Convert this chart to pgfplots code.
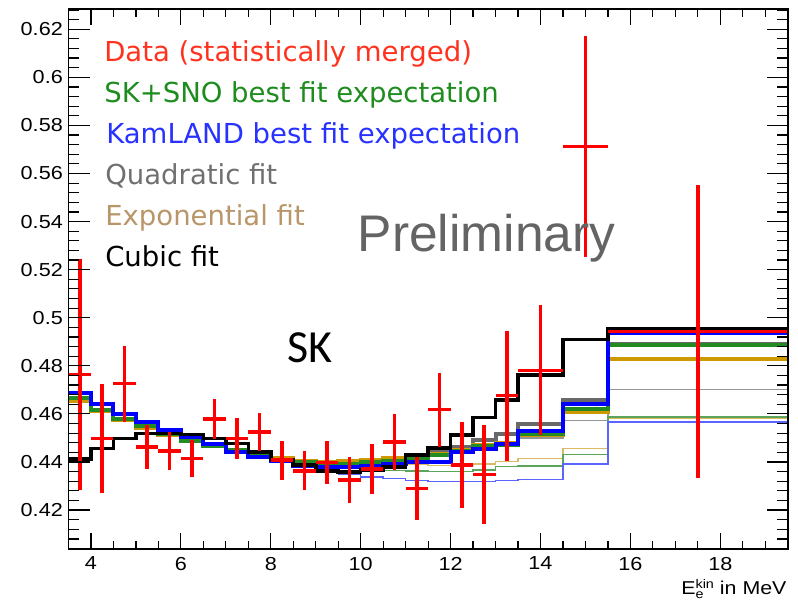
\documentclass[border=0pt]{standalone}
\usepackage{fontspec}
\setmainfont{Liberation Sans}
\newfontfamily\rootfont[FakeStretch=1.15]{Liberation Sans}
\newfontfamily\dejavu{DejaVu Sans}
\newfontfamily\carlito{Carlito}
\usepackage{pgfplots}
\pgfplotsset{compat=1.18}
\usepackage{pgfplotstable}
\usetikzlibrary{calc}

\definecolor{kblue}{RGB}{0,0,255}
\definecolor{sgreen}{RGB}{34,139,34}
\definecolor{egold}{RGB}{204,153,0}
\definecolor{qgray}{RGB}{105,105,105}
\definecolor{tblue}{RGB}{90,100,255}
\definecolor{tgreen}{RGB}{90,165,90}
\definecolor{tgold}{RGB}{220,185,100}
\definecolor{tgray}{RGB}{150,150,150}
\definecolor{datared}{RGB}{255,0,0}
\definecolor{legred}{RGB}{255,50,30}
\definecolor{leggreen}{RGB}{30,140,30}
\definecolor{legblue}{RGB}{40,50,255}
\definecolor{leggray}{RGB}{112,112,112}
\definecolor{legtan}{RGB}{185,150,105}
\definecolor{prelgray}{RGB}{100,100,100}

% histogram bins: value holds from x to the next x
\pgfplotstableread{
x     blue   green  gold   gray   black  tblue  tgreen tgold  tgray
3.5   0.4688 0.4668 0.4655 0.4662 0.4412 0.4688 0.4668 0.4655 0.4662
4     0.4643 0.4618 0.4610 0.4615 0.4456 0.4643 0.4618 0.4610 0.4615
4.5   0.4601 0.4580 0.4574 0.4578 0.4497 0.4601 0.4580 0.4574 0.4578
5     0.4565 0.4548 0.4543 0.4546 0.4518 0.4565 0.4548 0.4543 0.4546
5.5   0.4532 0.4515 0.4512 0.4514 0.4518 0.4532 0.4515 0.4512 0.4514
6     0.4502 0.4488 0.4486 0.4487 0.4515 0.4502 0.4488 0.4486 0.4487
6.5   0.4474 0.4466 0.4465 0.4466 0.4497 0.4474 0.4466 0.4465 0.4466
7     0.4440 0.4448 0.4448 0.4448 0.4477 0.4440 0.4448 0.4448 0.4448
7.5   0.4422 0.4428 0.4430 0.4428 0.4442 0.4422 0.4428 0.4430 0.4428
8     0.4405 0.4410 0.4415 0.4410 0.4410 0.4405 0.4410 0.4415 0.4410
8.5   0.4385 0.4398 0.4405 0.4398 0.4387 0.4385 0.4398 0.4405 0.4398
9     0.4378 0.4392 0.4400 0.4393 0.4362 0.4370 0.4390 0.4400 0.4393
9.5   0.4380 0.4393 0.4405 0.4395 0.4359 0.4350 0.4382 0.4400 0.4395
10    0.4385 0.4398 0.4410 0.4402 0.4366 0.4338 0.4373 0.4400 0.4402
10.5  0.4391 0.4405 0.4415 0.4415 0.4380 0.4331 0.4365 0.4394 0.4410
11    0.4400 0.4414 0.4425 0.4428 0.4428 0.4324 0.4363 0.4390 0.4418
11.5  0.4400 0.4428 0.4432 0.4442 0.4459 0.4318 0.4360 0.4385 0.4428
12    0.4442 0.4445 0.4450 0.4463 0.4511 0.4318 0.4360 0.4386 0.4440
12.5  0.4456 0.4466 0.4470 0.4493 0.4585 0.4320 0.4366 0.4391 0.4458
13    0.4474 0.4470 0.4478 0.4515 0.4659 0.4324 0.4380 0.4401 0.4475
13.5  0.4528 0.4518 0.4511 0.4560 0.4763 0.4327 0.4384 0.4414 0.4500
14.5  0.4643 0.4622 0.4606 0.4658 0.4910 0.4392 0.4430 0.4456 0.4572
15.5  0.4935 0.4885 0.4829 0.4890 0.4954 0.4566 0.4587 0.4583 0.4702
19.5  0.4935 0.4885 0.4829 0.4890 0.4954 0.4566 0.4587 0.4583 0.4702
}\hist

% data points: bin centre, value, half bin width, error
\pgfplotstableread{
x     y      ex   ey
3.75  0.4764 0.25 0.0480
4.25  0.4498 0.25 0.0228
4.75  0.4726 0.25 0.0158
5.25  0.4463 0.25 0.0092
5.75  0.4446 0.25 0.0078
6.25  0.4414 0.25 0.0076
6.75  0.4580 0.25 0.0083
7.25  0.4498 0.25 0.0085
7.75  0.4525 0.25 0.0080
8.25  0.4407 0.25 0.0081
8.75  0.4363 0.25 0.0081
9.25  0.4398 0.25 0.0088
9.75  0.4324 0.25 0.0095
10.25 0.4370 0.25 0.0104
10.75 0.4483 0.25 0.0117
11.25 0.4289 0.25 0.0130
11.75 0.4618 0.25 0.0154
12.25 0.4387 0.25 0.0180
12.75 0.4348 0.25 0.0207
13.25 0.4676 0.25 0.0270
14    0.4781 0.5  0.0270
15    0.5713 0.5  0.0460
17.5  0.4942 2    0.0610
}\data

\pgfplotsset{rootaxis/.style={
    width=719.2bp, height=539.7bp, scale only axis,
    xmin=3.5, xmax=19.5, ymin=0.4038, ymax=0.6283,
    axis line style={line width=1.8bp},
    tick style={line width=1.2bp, black},
    tick align=inside, xtick pos=both, ytick pos=both,
    ticklabel style={font=\rootfont\fontsize{18.8bp}{22bp}\selectfont},
}}

\begin{document}
\begin{tikzpicture}
% x ticks and all curves
\begin{axis}[rootaxis, name=ax,
    xtick={4,6,8,10,12,14,16,18},
    xticklabels={4,6,8,10,12,14,16,18},
    minor xtick={3.5,4,...,19.5},
    ytick=\empty,
    major tick length=15.7bp, minor tick length=8bp,
    xticklabel style={inner sep=0pt, yshift=-7.7bp},
]
\addplot[const plot, tgray, line width=1.4bp] table[x=x, y=tgray] {\hist};
\addplot[const plot, tgold, line width=1.4bp] table[x=x, y=tgold] {\hist};
\addplot[const plot, tgreen, line width=1.4bp] table[x=x, y=tgreen] {\hist};
\addplot[const plot, tblue, line width=1.4bp] table[x=x, y=tblue] {\hist};
\addplot[const plot, qgray, line width=4bp] table[x=x, y=gray] {\hist};
\addplot[const plot, egold, line width=4bp] table[x=x, y=gold] {\hist};
\addplot[const plot, sgreen, line width=4bp] table[x=x, y=green] {\hist};
\addplot[const plot, kblue, line width=4bp] table[x=x, y=blue] {\hist};
\addplot[const plot, black, line width=3.6bp] table[x=x, y=black] {\hist};
\addplot[draw=none, mark=none,
    error bars/.cd, x dir=both, x explicit, y dir=both, y explicit,
    error mark=none, error bar style={draw=datared, line width=3.6bp}]
    table[x=x, y=y, x error=ex, y error=ey] {\data};
\end{axis}
% y ticks (longer ticks than on x)
\begin{axis}[rootaxis,
    xtick=\empty,
    ytick={0.42,0.44,0.46,0.48,0.5,0.52,0.54,0.56,0.58,0.6,0.62},
    yticklabels={0.42,0.44,0.46,0.48,0.5,0.52,0.54,0.56,0.58,0.6,0.62},
    minor ytick={0.404,0.408,...,0.628},
    major tick length=21bp, minor tick length=11bp,
    yticklabel style={inner sep=0pt, xshift=-5.5bp},
]
\end{axis}

\begin{scope}[every node/.style={anchor=base west, inner sep=0pt, font=\dejavu\fontsize{27.5bp}{30bp}\selectfont}]
\node[text=legred]   at ($(ax.north west)+(35.6bp,-52.4bp)$)  {Data (statistically merged)};
\node[text=leggreen] at ($(ax.north west)+(35.6bp,-93.4bp)$)  {SK+SNO best fit expectation};
\node[text=legblue]  at ($(ax.north west)+(37.6bp,-134.4bp)$) {KamLAND best fit expectation};
\node[text=leggray]  at ($(ax.north west)+(36.6bp,-175.4bp)$) {Quadratic fit};
\node[text=legtan]   at ($(ax.north west)+(36.6bp,-216.4bp)$) {Exponential fit};
\node[text=black]    at ($(ax.north west)+(36.6bp,-257.4bp)$) {Cubic fit};
\end{scope}
\node[anchor=base west, inner sep=0pt, text=prelgray, font=\fontsize{51.5bp}{55bp}\selectfont]
    at ($(ax.north west)+(289bp,-242.7bp)$) {Preliminary};
\node[anchor=base west, inner sep=0pt, font=\carlito\fontsize{46bp}{50bp}\selectfont]
    at ($(ax.north west)+(219bp,-353.7bp)$) {SK};
\node[anchor=base east, inner sep=0pt, font=\rootfont\fontsize{18.6bp}{20bp}\selectfont]
    at ($(ax.south east)+(-1bp,-45.5bp)$)
    {E\rlap{\raisebox{-3.8bp}{\fontsize{12.5bp}{13bp}\selectfont e}}\raisebox{6.5bp}{\fontsize{12.5bp}{13bp}\selectfont kin} in MeV};

\pgfresetboundingbox
\path[use as bounding box] ($(ax.south west)+(-68.5bp,-51bp)$) rectangle ($(ax.north east)+(10.3bp,9.3bp)$);
\end{tikzpicture}
\end{document}
